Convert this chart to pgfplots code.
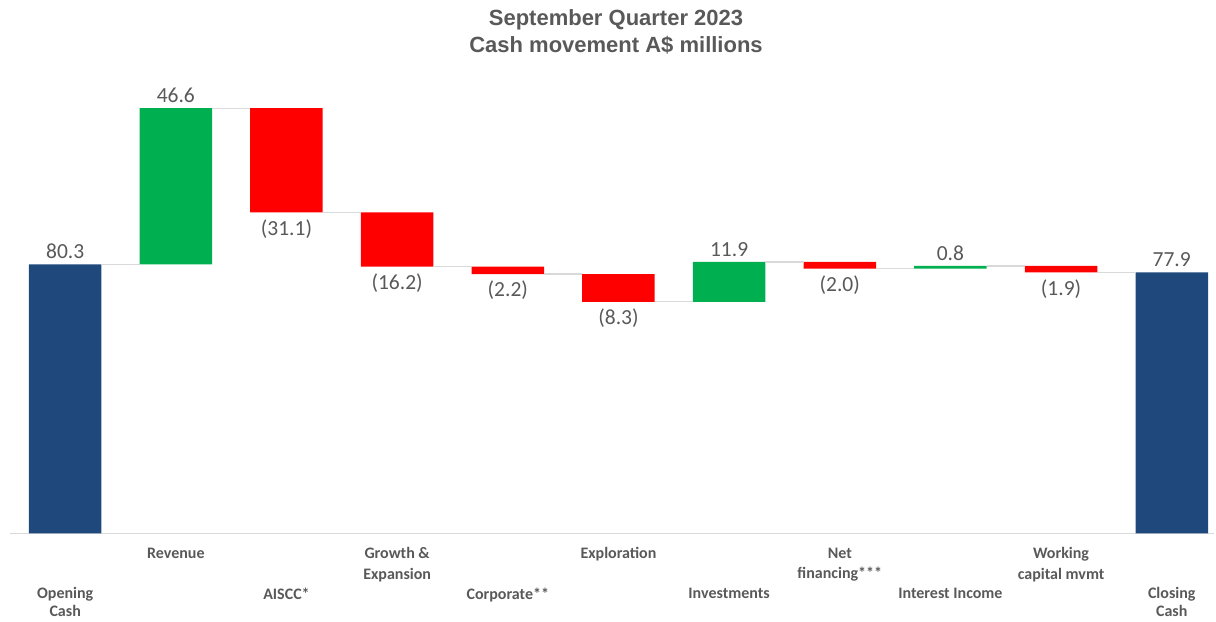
\documentclass[border=0pt]{standalone}
\usepackage{fontspec}
\setmainfont{Carlito}
\newfontfamily\titlefont{Liberation Sans}
\usepackage{pgfplots}
\pgfplotsset{compat=1.18}
\definecolor{navy}{RGB}{31,73,125}
\definecolor{wgreen}{RGB}{0,176,80}
\definecolor{wred}{RGB}{255,0,0}
\definecolor{txtgray}{RGB}{89,89,89}
\definecolor{conn}{RGB}{217,217,217}
\pgfplotsset{common/.style={x=110.65pt, y=3.35pt, xmin=-0.5, xmax=10.38, ymin=0, ymax=130, clip=false}}
\begin{document}
\begin{tikzpicture}
\begin{axis}[common, ybar stacked, bar width=72.5pt,
  axis x line*=bottom, axis y line=none,
  x axis line style={conn, line width=1.2pt, -},
  ytick=\empty,
  xtick={1,3,5,7,9},
  xticklabels={{Revenue},{Growth \&\\Expansion},{Exploration},{Net\\financing***},{Working\\capital mvmt}},
  extra x ticks={0,2,4,6,8,10},
  extra x tick labels={{Opening\\Cash},{AISCC*},{Corporate**},{Investments},{Interest Income},{Closing\\Cash}},
  major tick length=0pt, tick style={draw=none},
  xticklabel style={align=center, inner sep=0pt, font=\fontsize{16}{20.5}\selectfont\bfseries, text=txtgray, yshift=-14.2pt},
  extra x tick style={xticklabel style={yshift=-40pt, font=\fontsize{16}{18}\selectfont\bfseries}},
]
\addplot[fill=none, draw=none] coordinates {(0,0) (1,80.3) (2,95.8) (3,79.6) (4,77.4) (5,69.1) (6,69.1) (7,79.0) (8,79.0) (9,77.9) (10,0)};
\addplot[fill=navy, draw=none] coordinates {(0,80.3) (1,0) (2,0) (3,0) (4,0) (5,0) (6,0) (7,0) (8,0) (9,0) (10,77.9)};
\addplot[fill=wgreen, draw=none] coordinates {(0,0) (1,46.6) (2,0) (3,0) (4,0) (5,0) (6,11.9) (7,0) (8,0.8) (9,0) (10,0)};
\addplot[fill=wred, draw=none] coordinates {(0,0) (1,0) (2,31.1) (3,16.2) (4,2.2) (5,8.3) (6,0) (7,2.0) (8,0) (9,1.9) (10,0)};
\coordinate (BL) at (axis cs:-0.589,-26.18);
\coordinate (TR) at (axis cs:10.4,159.19);
\end{axis}
\begin{axis}[common, hide axis]
\addplot[conn, line width=1.2pt] coordinates {(0.3276,80.3) (0.6724,80.3)};
\addplot[conn, line width=1.2pt] coordinates {(1.3276,126.9) (1.6724,126.9)};
\addplot[conn, line width=1.2pt] coordinates {(2.3276,95.8) (2.6724,95.8)};
\addplot[conn, line width=1.2pt] coordinates {(3.3276,79.6) (3.6724,79.6)};
\addplot[conn, line width=1.2pt] coordinates {(4.3276,77.4) (4.6724,77.4)};
\addplot[conn, line width=1.2pt] coordinates {(5.3276,69.1) (5.6724,69.1)};
\addplot[conn, line width=1.2pt] coordinates {(6.3276,81.0) (6.6724,81.0)};
\addplot[conn, line width=1.2pt] coordinates {(7.3276,79.0) (7.6724,79.0)};
\addplot[conn, line width=1.2pt] coordinates {(8.3276,79.8) (8.6724,79.8)};
\addplot[conn, line width=1.2pt] coordinates {(9.3276,77.9) (9.6724,77.9)};
\addplot[draw=none, mark=none, nodes near coords, point meta=explicit symbolic,
  every node near coord/.style={anchor=south, inner sep=0pt, yshift=5pt, font=\fontsize{21.5}{24}\selectfont, text=txtgray}]
  table[meta=label] {
x y label
0 80.3 80.3
1 126.9 46.6
6 81.0 11.9
8 79.8 0.8
10 77.9 77.9
};
\addplot[draw=none, mark=none, nodes near coords, point meta=explicit symbolic,
  every node near coord/.style={anchor=north, inner sep=0pt, yshift=-7pt, font=\fontsize{21.5}{24}\selectfont, text=txtgray}]
  table[meta=label] {
x y label
2 95.8 (31.1)
3 79.6 (16.2)
4 77.4 (2.2)
5 69.1 (8.3)
7 79.0 (2.0)
9 77.9 (1.9)
};
\node[align=center, font=\titlefont\bfseries\fontsize{22}{27}\selectfont, text=txtgray] at (axis cs:4.978,149.8) {September Quarter 2023\\Cash movement A\$ millions};
\end{axis}
\pgfresetboundingbox
\path[use as bounding box] (BL) rectangle (TR);
\end{tikzpicture}
\end{document}
